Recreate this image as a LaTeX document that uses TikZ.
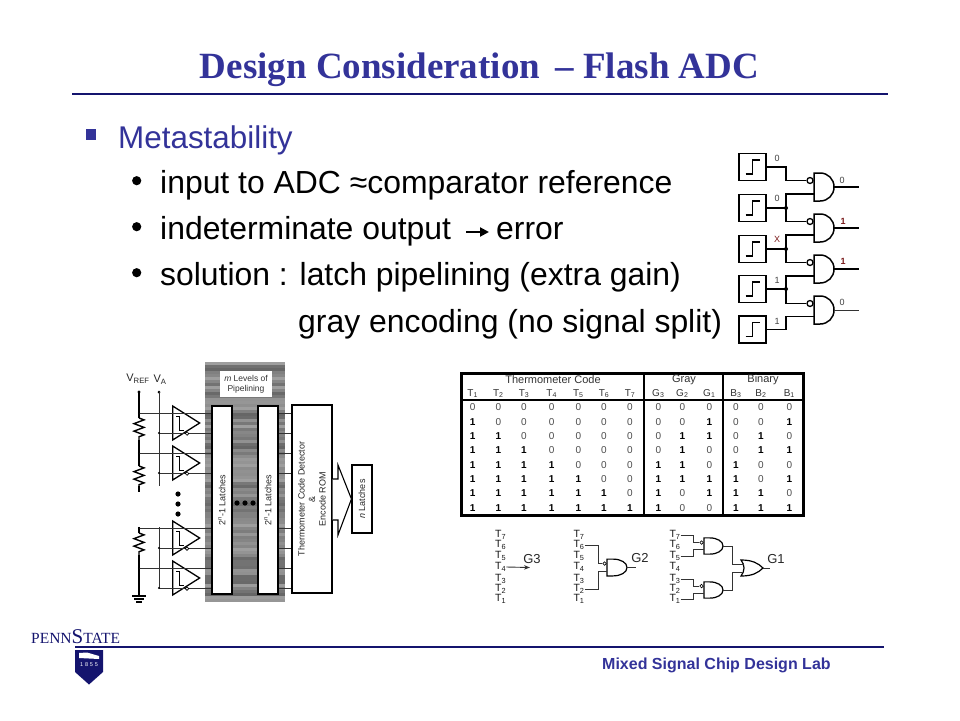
\documentclass[tikz,border=0pt]{standalone}
\usepackage{fontspec}
\setmainfont{Liberation Sans}
\newfontfamily\serifface{Liberation Serif}
\usetikzlibrary{positioning,arrows.meta,calc,shapes.geometric,decorations.pathmorphing}

\definecolor{slideblue}{HTML}{333399}
\definecolor{rulenavy}{HTML}{14146E}
\definecolor{redlabel}{HTML}{7A1A1A}

% AND body: name, left edge x, centre y, x-scale, y-scale (20 x 28 at scale 1)
\newcommand{\andbody}[5]{
  \coordinate (#1) at (#2,#3);
  \begin{scope}[shift={(#2,#3)}, xscale=#4, yscale=#5]
    \draw[gate_line] (0,-14) -- (0,14) -- (6,14) .. controls (14,14) and (20,8) .. (20,0)
      .. controls (20,-8) and (14,-14) .. (6,-14) -- cycle;
    \coordinate (#1-o) at (20,0);
  \end{scope}
}

\begin{document}
\begin{tikzpicture}[
  x=1pt, y=-1pt,
  gate_line/.style={draw=black, line width=1.5pt},
  thin_gate/.style={draw=black, line width=1.2pt},
  wire/.style={draw=black, line width=1.4pt},
  fine_wire/.style={draw=black!80, line width=0.9pt},
  bubble/.style={circle, draw=black, fill=white, line width=1.3pt, inner sep=0pt, minimum size=6pt},
  small_bubble/.style={circle, draw=black, fill=white, line width=0.7pt, inner sep=0pt, minimum size=3.5pt},
  step_box/.style={draw=black, line width=1.7pt, minimum width=27pt, minimum height=27pt, inner sep=0pt},
  bit_label/.style={font=\fontsize{9}{10}\selectfont, inner sep=0pt, text=black!75},
  line_text/.style={anchor=base west, inner sep=0pt, font=\fontsize{31.9}{36}\selectfont},
  tall_box/.style={draw=black, fill=white, line width=1.1pt, inner sep=0pt},
  small_text/.style={font=\fontsize{9}{10}\selectfont, text=black!85, inner sep=0pt},
  comp/.style={isosceles triangle, isosceles triangle apex angle=60, isosceles triangle stretches, draw=black, line width=1.3pt, inner sep=0pt,
    minimum width=34pt, minimum height=27pt, anchor=lower side},
  cell/.style={font=\fontsize{10}{11}\selectfont, text=black!80, inner sep=0pt},
  code_t/.style={font=\fontsize{10.5}{11}\selectfont, text=black!90, inner sep=0pt}
]
\useasboundingbox (0,0) rectangle (960,720);

% --- Heading and bullets ---
\node[font=\serifface\bfseries\fontsize{37}{40}\selectfont, text=slideblue, inner sep=0pt, anchor=base] (title) at (479.5,78)
  {Design Consideration\, – Flash ADC};
\coordinate (ruleL) at (72,94);
\coordinate (ruleR) at (888,94);
\draw[rulenavy, line width=2pt] (ruleL) -- (ruleR);

\fill[slideblue] (86,129) rectangle (96,139.5);
\node[line_text, text=slideblue, font=\fontsize{31.4}{36}\selectfont] (meta) at (118,148) {Metastability};
\foreach \y in {180.7,226.7,272.7} \fill[black] (136.7,\y) circle (4.6);
\node[line_text] (line1) at (160,193.7) {input to ADC ≈comparator reference};
\node[line_text] (line2a) at (160,239.5) {indeterminate output};
\node[line_text] (line2b) at (496,239.5) {error};
\coordinate (arrA) at (466,232);
\coordinate (arrB) at (489,232);
\draw[-{Triangle[length=9pt,width=9pt]}, line width=2pt] (arrA) -- (arrB);
\node[line_text] (line3) at (160,285.5) {solution : latch pipelining (extra gain)};
\node[line_text] (line4) at (298,332) {gray encoding (no signal split)};

% --- Top right: comparators and gates ---
\foreach \n/\y in {1/167,2/208,3/249,4/289,5/329.5} {
  \node[step_box] (st\n) at (752.5,\y) {};
  \draw[line width=1.5pt] ($(st\n.center)+(-7,7)$) -- ++(7,0) -- ++(0,-14) -- ++(7,0);
}
\foreach \n/\y in {1/187,2/228,3/269,4/310} {
  \andbody{and\n}{814}{\y}{1}{1}
  \node[bubble] (bub\n) at (810,\y-6.5) {};
  \coordinate (outEnd\n) at (859,\y);
}
\foreach \n in {1,2,3} \draw[wire] (and\n-o) -- (outEnd\n);
\draw[fine_wire] (and4-o) -- (outEnd4);

\coordinate (j1) at (786,208);
\coordinate (j2) at (786,249);
\coordinate (j3) at (786,289);
\draw[wire] (st1.east) -| (786,180.5) -- (bub1.west);
\draw[wire] (st2.east) -- (j1);
\draw[wire] (814,194) -| (j1) |- (bub2.west);
\draw[wire] (st3.east) -- (j2);
\draw[wire] (814,235) -| (j2) |- (bub3.west);
\draw[wire] (st4.east) -- (j3);
\draw[wire] (814,276) -| (j3) |- (bub4.west);
\draw[wire] (st5.east) -| (786,316.5) -- (814,316.5);
\foreach \p in {j1,j2,j3} \fill[black] (\p) circle (2);

\node[bit_label] (inA) at (777,158) {0};
\node[bit_label] (inB) at (777,198) {0};
\node[bit_label, text=redlabel] (inC) at (777,239) {X};
\node[bit_label] (inD) at (777,280) {1};
\node[bit_label] (inE) at (777,321) {1};
\node[bit_label] (outA) at (842,180) {0};
\node[bit_label, text=redlabel, font=\bfseries\fontsize{9}{10}\selectfont] (outB) at (843,221) {1};
\node[bit_label, text=redlabel, font=\bfseries\fontsize{9}{10}\selectfont] (outC) at (843,261) {1};
\node[bit_label] (outD) at (842,302) {0};

% --- Left: pipelined flash converter ---
\fill[black!52] (205,363) rectangle (285,602);
\pgfmathsetseed{11}
\foreach \i in {0,...,79} {
  \pgfmathsetmacro{\shade}{int(38+random(0,22))}
  \pgfmathsetmacro{\ypos}{363.5+3*\i}
  \draw[black!\shade, line width=3pt] (205,\ypos) -- (285,\ypos);
}
\node[draw=none, fill=white, minimum width=52pt, minimum height=26pt, inner sep=0pt, align=center,
  font=\fontsize{8.5}{10}\selectfont, text=black!80] (levels) at (246,384)
  {{\itshape m} Levels of\\Pipelining};

\node[tall_box, minimum width=20pt, minimum height=188pt] (lat1) at (222,500) {};
\node[tall_box, minimum width=20pt, minimum height=188pt] (lat2) at (268,500) {};
\node[tall_box, minimum width=40pt, minimum height=188pt] (rom) at (312,499) {};
\node[tall_box, minimum width=20pt, minimum height=68pt] (nlat) at (362,499) {};
\node[small_text, rotate=90] at (lat1.center) (lat1txt) {2\textsuperscript{n}-1 Latches};
\node[small_text, rotate=90] at (lat2.center) (lat2txt) {2\textsuperscript{n}-1 Latches};
\node[small_text, rotate=90, align=center, font=\fontsize{9}{10.5}\selectfont] at (rom.center) (romtxt)
  {Thermometer Code Detector\\\&\\Encode ROM};
\node[small_text, rotate=90] at (nlat.center) (nlattxt) {{\itshape n} Latches};
\draw[fill=white, line width=1.1pt] (rom.east |- 0,479) -- (338,479) -- (338,465) -- (nlat.west)
  -- (338,535) -- (338,520) -- (rom.east |- 0,520);

\node[font=\fontsize{11}{12}\selectfont, inner sep=0pt, text=black!85] (vrefL) at (138,379) {V\textsubscript{REF}};
\node[font=\fontsize{11}{12}\selectfont, inner sep=0pt, text=black!85] (vaL) at (160,380) {V\textsubscript{A}};
\coordinate (vrefT) at (139,392);
\coordinate (vaT) at (159,392);
\coordinate (gndT) at (139,595);
\coordinate (vaA) at (159,486);
\coordinate (vaB) at (159,527);
\coordinate (vaC) at (159,588);
\fill[black] (vrefT) circle (1.7);
\fill[black] (vaT) circle (1.5);
\draw[wire] (vrefT) -- (139,418);
\draw[wire, decorate, decoration={zigzag, amplitude=5pt, segment length=7.5pt}] (139,418) -- (139,440);
\draw[wire] (139,440) -- (139,466);
\draw[wire, decorate, decoration={zigzag, amplitude=5pt, segment length=7.5pt}] (139,466) -- (139,486);
\draw[wire] (139,486) -- (139,492);
\draw[wire] (139,527) -- (139,533);
\draw[wire, decorate, decoration={zigzag, amplitude=5pt, segment length=7.5pt}] (139,533) -- (139,555);
\draw[wire] (139,555) -- (gndT);
\draw[fine_wire] (vaT) -- (vaA);
\draw[fine_wire] (vaB) -- (vaC);
\draw[wire] (132,596) -- (146,596);
\draw[wire] (134,599) -- (144,599);
\draw[wire] (136,602) -- (142,602);

\foreach \n/\y in {1/423,2/463,3/538,4/578} {
  \node[comp] (cmp\n) at (172,\y) {};
  \draw[line width=1pt] (176,\y-7) -- (179.5,\y-7) -- (179.5,\y+7) -- (184,\y+7);
  \coordinate (refIn\n) at (139,\y-10);
  \coordinate (sigIn\n) at (159,\y+10);
  \draw[fine_wire] (refIn\n) -- (lat1.west |- refIn\n);
  \draw[fine_wire] (sigIn\n) -- (lat1.west |- sigIn\n);
  \fill[black] (refIn\n) circle (1.2);
  \fill[black] (sigIn\n) circle (1.2);
  \node[small_bubble] (cmpb\n) at (187,\y+10.5) {};
  \draw[fine_wire] (lat2.east |- refIn\n) -- (rom.west |- refIn\n);
  \draw[fine_wire] (lat2.east |- sigIn\n) -- (rom.west |- sigIn\n);
}
\foreach \y in {494,504,514} \fill[black] (178,\y) circle (2.6);
\foreach \x in {237,245,253} \fill[black] (\x,503) circle (2.6);

% --- Right: code table ---
\draw[black, line width=3pt, fill=white] (461,373) rectangle (803,515);
\node[cell, font=\fontsize{11}{12}\selectfont] (hTh) at (553,380) {Thermometer Code};
\node[cell, font=\fontsize{11}{12}\selectfont] (hGr) at (684,380) {Gray};
\node[cell, font=\fontsize{11}{12}\selectfont] (hBi) at (763,380) {Binary};
\draw[black, line width=2pt] (461,400) -- (803,400);
\draw[black, line width=2pt] (644,373) -- (644,515);
\draw[black, line width=2pt] (723,373) -- (723,515);

\def\colX{{472.7,498.3,524,551.7,578.3,604,630,658.3,682.3,709.3,736,761,789.3}}
\foreach \name [count=\j from 0] in {T\textsubscript{1},T\textsubscript{2},T\textsubscript{3},T\textsubscript{4},T\textsubscript{5},T\textsubscript{6},T\textsubscript{7},G\textsubscript{3},G\textsubscript{2},G\textsubscript{1},B\textsubscript{3},B\textsubscript{2},B\textsubscript{1}} {
  \pgfmathsetmacro{\cx}{\colX[\j]}
  \node[cell] (hd\j) at (\cx,393.5) {\name};
}
\foreach \bits [count=\r from 0] in {
  {0,0,0,0,0,0,0,0,0,0,0,0,0},
  {1,0,0,0,0,0,0,0,0,1,0,0,1},
  {1,1,0,0,0,0,0,0,1,1,0,1,0},
  {1,1,1,0,0,0,0,0,1,0,0,1,1},
  {1,1,1,1,0,0,0,1,1,0,1,0,0},
  {1,1,1,1,1,0,0,1,1,1,1,0,1},
  {1,1,1,1,1,1,0,1,0,1,1,1,0},
  {1,1,1,1,1,1,1,1,0,0,1,1,1}} {
  \foreach \v [count=\j from 0] in \bits {
    \pgfmathsetmacro{\cx}{\colX[\j]}
    \pgfmathsetmacro{\cy}{407.3+14.35*\r}
    \ifnum\v=1
      \node[cell, text=black, font=\bfseries\fontsize{10}{11}\selectfont] (c\r-\j) at (\cx,\cy) {\v};
    \else
      \node[cell, text=black!70] (c\r-\j) at (\cx,\cy) {\v};
    \fi
  }
}

% --- Bottom right: gray encoder gates ---
\foreach \s/\x in {a/500.7,b/579,c/675} {
  \foreach \k/\y in {7/535,6/545,5/556,4/567,3/579,2/589,1/599} {
    \node[code_t] (\s\k) at (\x,\y) {T\textsubscript{\k}};
  }
}
\node[font=\fontsize{13}{14}\selectfont, text=black!85, inner sep=0pt] (g3) at (532,559) {G3};
\node[font=\fontsize{13}{14}\selectfont, text=black!85, inner sep=0pt] (g2) at (640,558) {G2};
\node[font=\fontsize{13}{14}\selectfont, text=black!85, inner sep=0pt] (g1) at (776,559) {G1};
\coordinate (g3arrow) at (530,567.5);
\draw[-{Stealth[length=6pt]}, fine_wire] (a4.east) -- (g3arrow);

\tikzset{gate_line/.style=thin_gate}
\andbody{g2and}{607}{567.5}{1}{0.6}
\node[small_bubble] (g2bub) at (604.5,563.5) {};
\coordinate (g2end) at (636,567.5);
\draw[fine_wire] (g2and-o) -- (g2end);
\draw[fine_wire] (b6.east) -| (598,563.5) -- (g2bub.west);
\draw[fine_wire] (b2.east) -| (598,571.5) -- (607,571.5);

\andbody{g1a}{704}{546}{0.95}{0.58}
\andbody{g1b}{704}{590}{0.95}{0.58}
\node[small_bubble] (g1abub) at (701.5,542.5) {};
\node[small_bubble] (g1bbub) at (701.5,586) {};
\draw[fine_wire] (c7.east) -| (693,542.5) -- (g1abub.west);
\draw[fine_wire] (c5.east) -| (693,549.5) -- (704,549.5);
\draw[fine_wire] (c3.east) -| (693,586) -- (g1bbub.west);
\draw[fine_wire] (c1.east) -| (693,593.5) -- (704,593.5);

\draw[gate_line] (741,560) .. controls (752,560) and (758,563) .. (763,568)
  .. controls (758,573) and (752,576) .. (741,576) .. controls (745,571) and (745,565) .. (741,560) -- cycle;
\coordinate (orA) at (744,564);
\coordinate (orB) at (744,572);
\coordinate (orO) at (763,568);
\coordinate (g1end) at (770,568);
\draw[fine_wire] (g1a-o) -| (732,564) -- (orA);
\draw[fine_wire] (g1b-o) -| (732,572) -- (orB);
\draw[fine_wire] (orO) -- (g1end);

% --- Footer ---
\coordinate (footL) at (75,646.5);
\coordinate (footR) at (884,646.5);
\draw[rulenavy, line width=2pt] (footL) -- (footR);
\node[anchor=base west, inner sep=0pt, text=rulenavy, font=\serifface\fontsize{15.5}{18}\selectfont] (logo) at (31,643)
  {PENN{\fontsize{21}{22}\selectfont S}TATE};
\fill[rulenavy] (75,650) -- (103,650) -- (103,672) -- (89,684.5) -- (75,672) -- cycle;
\fill[white] (79,653) -- (87,652.5) -- (99,656) -- (99,659) -- (79,658) -- cycle;
\node[text=white, font=\fontsize{5.5}{6}\selectfont, inner sep=0pt] (year) at (89,665) {1\,\,8\,\,5\,\,5};
\node[anchor=base west, inner sep=0pt, text=slideblue, font=\bfseries\fontsize{16}{18}\selectfont] (lab) at (602,669)
  {Mixed Signal Chip Design Lab};
\end{tikzpicture}
\end{document}
